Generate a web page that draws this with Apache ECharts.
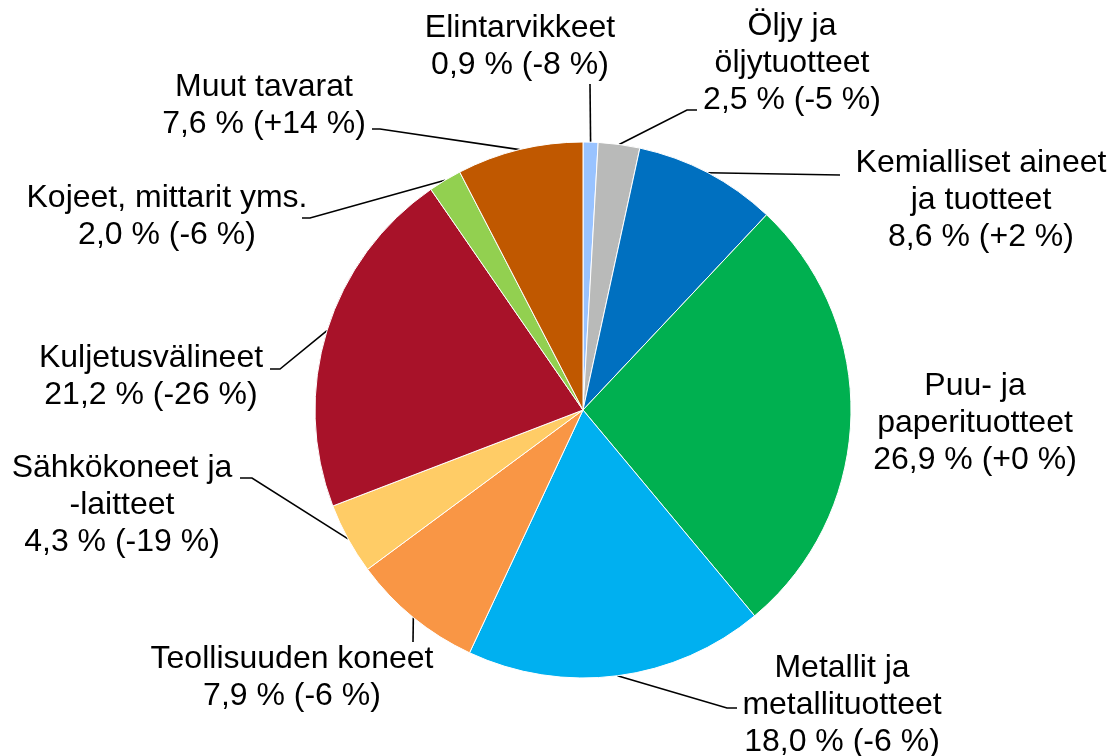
<!DOCTYPE html>
<html>
<head>
<meta charset="utf-8">
<script src="https://cdn.jsdelivr.net/npm/echarts@6/dist/echarts.min.js"></script>
<style>
    html, body { margin: 0; padding: 0; background: #fff; }
    #chart { width: 1112px; height: 756px; }
</style>
</head>
<body>
<div id="chart"></div>
<script>
// data
var categories = [
    'Elintarvikkeet',
    'Öljy ja\nöljytuotteet',
    'Kemialliset aineet\nja tuotteet',
    'Puu- ja\npaperituotteet',
    'Metallit ja\nmetallituotteet',
    'Teollisuuden koneet',
    'Sähkökoneet ja\n-laitteet',
    'Kuljetusvälineet',
    'Kojeet, mittarit yms.',
    'Muut tavarat'
];
var shares = [0.9, 2.5, 8.6, 26.9, 18.0, 7.9, 4.3, 21.2, 2.0, 7.6];
var changes = [-8, -5, 2, 0, -6, -6, -19, -26, -6, 14];

var colors = ['#99C3FF', '#B9BAB9', '#0070C0', '#00B050', '#00B0F0',
              '#F99645', '#FFCC66', '#A81229', '#92D050', '#C05800'];

// label placement (text block centres) and leader line bends
var labelPos = [[520, 47], [792, 63], [981, 200], [975, 423], [842, 705],
                [292, 678], [122, 505], [151, 377], [167, 217], [264, 106]];
var lineBends = [
    [[590, 84]],
    [[687, 110], [697, 110]],
    [[840, 175]],
    null,
    [[727, 708], [737, 708]],
    [[413, 642]],
    [[252, 478], [240, 478]],
    [[280, 369], [270, 369]],
    [[310, 218], [302, 218]],
    [[380, 129], [372, 129]]
];

var chart = echarts.init(document.getElementById('chart'));

function fmtShare(v) {
    return v.toFixed(1).replace('.', ',');
}
function fmtChange(c) {
    return (c >= 0 ? '+' : '') + c;
}

var pieData = categories.map(function (name, i) {
    var item = {
        name: name,
        value: shares[i],
        itemStyle: { color: colors[i] }
    };
    if (!lineBends[i]) {
        item.labelLine = { show: false };
    }
    return item;
});

var cx = 583, cy = 410, R = 268;

chart.setOption({
    backgroundColor: '#fff',
    animation: false,
    series: [{
        type: 'pie',
        center: [cx, cy],
        radius: R,
        startAngle: 90,
        clockwise: true,
        avoidLabelOverlap: false,
        itemStyle: {
            borderColor: '#fff',
            borderWidth: 1
        },
        label: {
            show: true,
            position: 'outside',
            color: '#000',
            fontFamily: '"Liberation Sans", Arial, sans-serif',
            fontSize: 32,
            lineHeight: 37,
            align: 'center',
            formatter: function (p) {
                var i = p.dataIndex;
                return categories[i] + '\n' + fmtShare(shares[i]) + ' % (' + fmtChange(changes[i]) + ' %)';
            }
        },
        labelLine: {
            show: true,
            length: 20,
            length2: 10,
            lineStyle: { color: '#000', width: 1.6 }
        },
        emphasis: { disabled: true },
        labelLayout: function (params) {
            var i = params.dataIndex;
            var res = {
                x: labelPos[i][0],
                y: labelPos[i][1],
                align: 'center',
                verticalAlign: 'middle'
            };
            if (lineBends[i]) {
                var anchor = params.labelLinePoints && params.labelLinePoints[0];
                if (!anchor) {
                    var before = 0, total = 0;
                    for (var k = 0; k < shares.length; k++) {
                        total += shares[k];
                        if (k < i) before += shares[k];
                    }
                    var ang = (before + shares[i] / 2) / total * Math.PI * 2;
                    anchor = [cx + R * Math.sin(ang), cy - R * Math.cos(ang)];
                }
                res.labelLinePoints = [anchor].concat(lineBends[i]);
            }
            return res;
        },
        data: pieData
    }]
});
</script>
</body>
</html>
